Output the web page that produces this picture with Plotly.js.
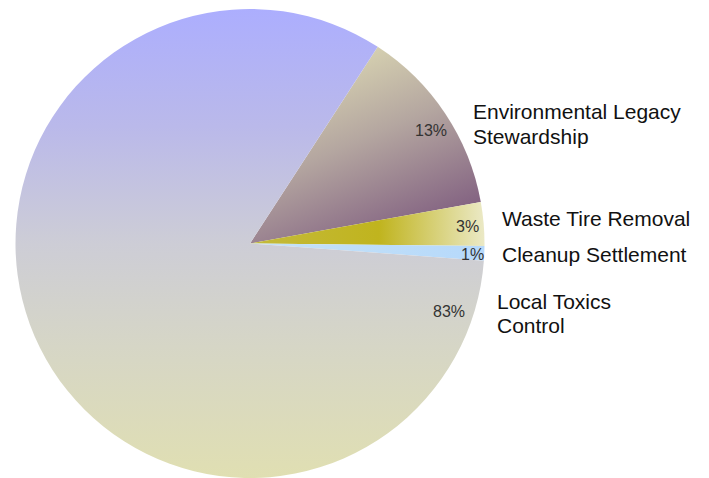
<!DOCTYPE html>
<html>
<head>
<meta charset="utf-8">
<script src="https://cdn.plot.ly/plotly-3.0.1.min.js"></script>
<style>html,body{margin:0;padding:0;background:#fff;}#chart{width:709px;height:478px;}</style>
</head>
<body>
<div id="chart"></div>
<script>
// Data
const categories = ["Environmental Legacy<br>Stewardship", "Waste Tire Removal", "Cleanup Settlement", "Local Toxics<br>Control"];
const values = [13, 3, 1, 83];
const baseColors = ["#b8a8a0", "#c8bc40", "#b9dbfa", "#cdcdd4"];

// Layout-only positions for labels (pixels): x, block centre y
const labelPos = [[471, 124], [500, 218], [500, 254], [495, 313]];
const lineGap = 24;
const pctPos = [[431, 131], [467, 226], [472, 254], [449, 311]];

const W = 709, H = 478;
const total = values.reduce((a, b) => a + b, 0);
const FONT = '"Liberation Sans", Arial, sans-serif';

const annotations = [];
categories.forEach((c, i) => {
  const lines = c.split('<br>');
  lines.forEach((line, k) => {
    const yc = labelPos[i][1] + (k - (lines.length - 1) / 2) * lineGap;
    annotations.push({
      text: line, xref: 'paper', yref: 'paper',
      x: labelPos[i][0] / W, y: 1 - yc / H,
      xanchor: 'left', yanchor: 'middle', align: 'left', showarrow: false,
      font: {family: FONT, size: 21, color: '#111'}
    });
  });
  annotations.push({
    text: Math.round(values[i] / total * 100) + '%', xref: 'paper', yref: 'paper',
    x: pctPos[i][0] / W, y: 1 - pctPos[i][1] / H,
    xanchor: 'center', yanchor: 'middle', showarrow: false,
    font: {family: FONT, size: 16, color: '#333'}
  });
});

const trace = {
  type: 'pie',
  labels: categories,
  values: values,
  sort: false,
  direction: 'clockwise',
  rotation: 33,
  textinfo: 'none',
  hoverinfo: 'none',
  marker: {colors: baseColors, line: {width: 0}},
  domain: {x: [15 / W, 485 / W], y: [0, 469 / H]},
  showlegend: false
};

const layout = {
  width: W, height: H,
  margin: {l: 0, r: 0, t: 0, b: 0},
  paper_bgcolor: '#ffffff',
  plot_bgcolor: '#ffffff',
  showlegend: false,
  annotations: annotations
};

const gradients = [
  {id: 'gEnv', x1: 0.3, y1: 0, x2: 0.8, y2: 1, stops: [[0, '#dedbb4'], [0.45, '#b4a6a0'], [1, '#7a567c']]},
  {id: 'gTire', x1: 0, y1: 0, x2: 1, y2: 0, stops: [[0, '#c4ba3c'], [0.55, '#c0b41e'], [1, '#ebe9c6']]},
  {id: 'gClean', x1: 0, y1: 0, x2: 1, y2: 0, stops: [[0, '#c6e2f6'], [1, '#b6d9fb']]},
  {id: 'gLocal', x1: 0, y1: 0, x2: 0, y2: 1, stops: [[0, '#acaefe'], [0.25, '#bab9ea'], [0.5, '#cdcdd6'], [0.72, '#d6d6c6'], [1, '#e0dfb2']]}
];

Plotly.newPlot('chart', [trace], layout, {staticPlot: true}).then(() => {
  const svg = document.querySelector('#chart .main-svg');
  const NS = 'http://www.w3.org/2000/svg';
  let defs = svg.querySelector('defs');
  if (!defs) { defs = document.createElementNS(NS, 'defs'); svg.insertBefore(defs, svg.firstChild); }
  gradients.forEach(g => {
    const lg = document.createElementNS(NS, 'linearGradient');
    lg.setAttribute('id', g.id);
    lg.setAttribute('x1', g.x1); lg.setAttribute('y1', g.y1);
    lg.setAttribute('x2', g.x2); lg.setAttribute('y2', g.y2);
    g.stops.forEach(s => {
      const st = document.createElementNS(NS, 'stop');
      st.setAttribute('offset', s[0]);
      st.setAttribute('stop-color', s[1]);
      lg.appendChild(st);
    });
    defs.appendChild(lg);
  });
  const paths = document.querySelectorAll('#chart .slice path.surface');
  paths.forEach((p, i) => {
    if (gradients[i]) p.style.fill = 'url(#' + gradients[i].id + ')';
  });
});
</script>
</body>
</html>
